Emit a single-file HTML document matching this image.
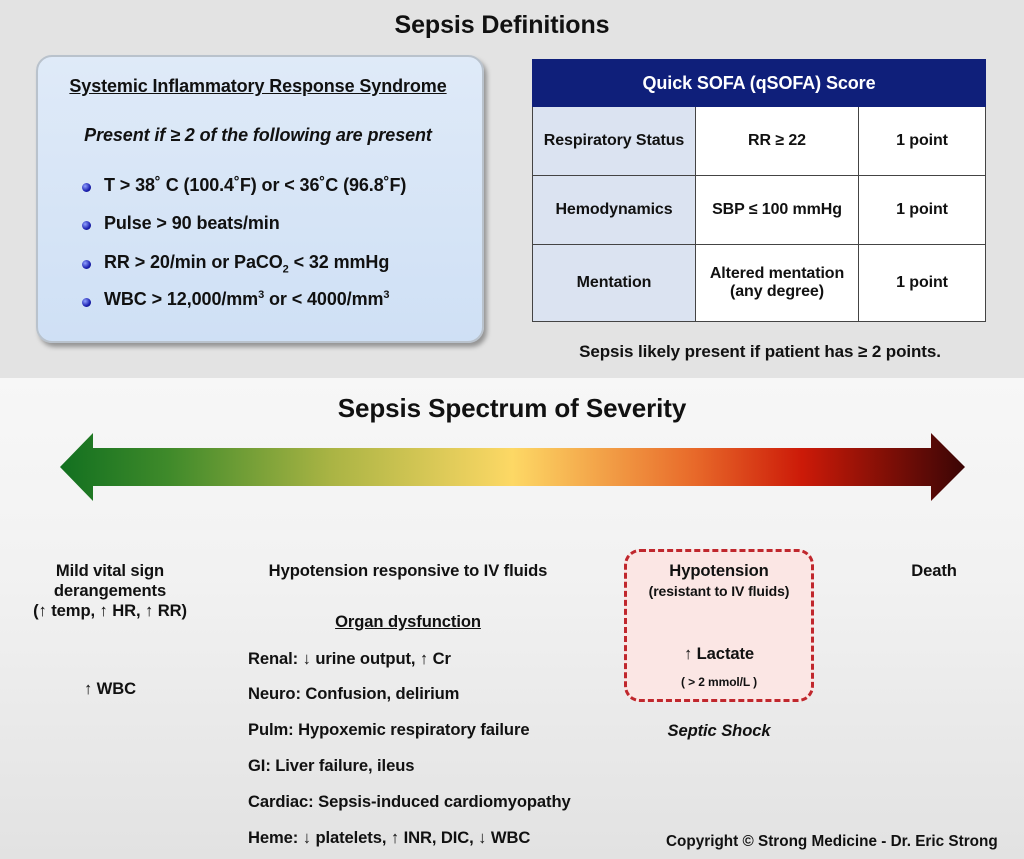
<!DOCTYPE html>
<html><head><meta charset="utf-8"><style>
*{margin:0;padding:0;box-sizing:border-box}
body{width:1024px;height:859px;position:relative;overflow:hidden;font-family:"Liberation Sans",sans-serif;font-weight:bold;color:#111;background:#e6e6e6}
.t{position:absolute;white-space:nowrap;font-size:16.6px;letter-spacing:-0.1px}
.c{transform:translateX(-50%);text-align:center}
#top{position:absolute;left:0;top:0;width:1024px;height:378px;background:#e3e3e3}
#bot{position:absolute;left:0;top:378px;width:1024px;height:481px;background:linear-gradient(#f7f7f7,#f2f2f2 40%,#e2e2e2)}
#sirs{position:absolute;left:36px;top:55px;width:448px;height:288px;border-radius:16px;background:linear-gradient(#dfeaf8,#cfe0f5);border:2px solid #b9c2cc;box-shadow:3px 4px 5px rgba(0,0,0,.35)}
.dot{position:absolute;width:9px;height:9px;border-radius:50%;background:radial-gradient(circle at 35% 35%,#8fa0ff,#1a1fb0 60%,#0a0a60)}
table{position:absolute;left:532px;top:59px;width:454px;height:262px;border-collapse:collapse;font-size:16px;letter-spacing:-0.1px}
td{border:1px solid #444;text-align:center;background:#fff}
td.l{background:#dbe3f1}
th{background:#0f1f7a;color:#fff;font-size:18px;height:47px;border:1px solid #0f1f7a}
#shock{position:absolute;left:624px;top:549px;width:190px;height:153px;border:3px dashed #c0272d;border-radius:16px;background:#fbe6e4}
</style></head><body>
<div id="top"></div><div id="bot"></div>
<div class="t c" style="left:502px;top:11px;font-size:25px">Sepsis Definitions</div>
<div id="sirs"></div>
<div class="t c" style="left:258px;top:76px;font-size:18px">
<span style="text-decoration:underline">Systemic Inflammatory Response Syndrome</span></div>
<div class="t c" style="left:258px;top:125px;font-size:18px;font-style:italic">Present if ≥ 2 of the following are present</div>
<div class="dot" style="left:82px;top:183px"></div><div class="t" style="left:104px;top:175px;font-size:18px">T &gt; 38˚ C (100.4˚F) or &lt; 36˚C (96.8˚F)</div>
<div class="dot" style="left:82px;top:221px"></div><div class="t" style="left:104px;top:213px;font-size:18px">Pulse &gt; 90 beats/min</div>
<div class="dot" style="left:82px;top:260px"></div><div class="t" style="left:104px;top:252px;font-size:18px">RR &gt; 20/min or PaCO<sub style="font-size:11px">2</sub> &lt; 32 mmHg</div>
<div class="dot" style="left:82px;top:298px"></div><div class="t" style="left:104px;top:289px;font-size:18px">WBC &gt; 12,000/mm<sup style="font-size:11px">3</sup> or &lt; 4000/mm<sup style="font-size:11px">3</sup></div>
<table>
<tr><th colspan="3">Quick SOFA (qSOFA) Score</th></tr>
<tr style="height:69px"><td class="l" style="width:163px">Respiratory Status</td><td style="width:163px">RR ≥ 22</td><td>1 point</td></tr>
<tr style="height:69px"><td class="l">Hemodynamics</td><td>SBP ≤ 100 mmHg</td><td>1 point</td></tr>
<tr style="height:77px"><td class="l">Mentation</td><td>Altered mentation<br>(any degree)</td><td>1 point</td></tr>
</table>
<div class="t c" style="left:760px;top:342px;font-size:17px">Sepsis likely present if patient has ≥ 2 points.</div>
<div class="t c" style="left:512px;top:393px;font-size:26px">Sepsis Spectrum of Severity</div>
<svg style="position:absolute;left:0;top:0" width="1024" height="859">
<defs><linearGradient id="g" x1="60" x2="965" gradientUnits="userSpaceOnUse">
<stop offset="0" stop-color="#127020"/><stop offset=".12" stop-color="#3f8a2a"/><stop offset=".3" stop-color="#aab444"/><stop offset=".5" stop-color="#fdd865"/><stop offset=".7" stop-color="#e86a2a"/><stop offset=".82" stop-color="#cc1a08"/><stop offset="1" stop-color="#3a0505"/></linearGradient></defs>
<polygon points="60,467 93,433 93,448 931,448 931,433 965,467 931,501 931,486 93,486 93,501" fill="url(#g)"/>
</svg>
<div class="t c" style="left:110px;top:561px;line-height:20px">Mild vital sign<br>derangements<br>(↑ temp, ↑ HR, ↑ RR)</div>
<div class="t c" style="left:110px;top:679px">↑ WBC</div>
<div class="t c" style="left:408px;top:561px">Hypotension responsive to IV fluids</div>
<div class="t c" style="left:408px;top:612px;text-decoration:underline">Organ dysfunction</div>
<div class="t" style="left:248px;top:649px">Renal: ↓ urine output, ↑ Cr</div>
<div class="t" style="left:248px;top:684px">Neuro: Confusion, delirium</div>
<div class="t" style="left:248px;top:720px">Pulm: Hypoxemic respiratory failure</div>
<div class="t" style="left:248px;top:756px">GI: Liver failure, ileus</div>
<div class="t" style="left:248px;top:792px">Cardiac: Sepsis-induced cardiomyopathy</div>
<div class="t" style="left:248px;top:828px">Heme: ↓ platelets, ↑ INR, DIC, ↓ WBC</div>
<div id="shock"></div>
<div class="t c" style="left:719px;top:561px">Hypotension</div>
<div class="t c" style="left:719px;top:583px;font-size:14px">(resistant to IV fluids)</div>
<div class="t c" style="left:719px;top:644px">↑ Lactate</div>
<div class="t c" style="left:719px;top:675px;font-size:12px">( &gt; 2 mmol/L )</div>
<div class="t c" style="left:719px;top:721px;font-style:italic">Septic Shock</div>
<div class="t c" style="left:934px;top:561px">Death</div>
<div class="t" style="left:666px;top:833px;font-size:15.3px;letter-spacing:0">Copyright © Strong Medicine - Dr. Eric Strong</div>
</body></html>
